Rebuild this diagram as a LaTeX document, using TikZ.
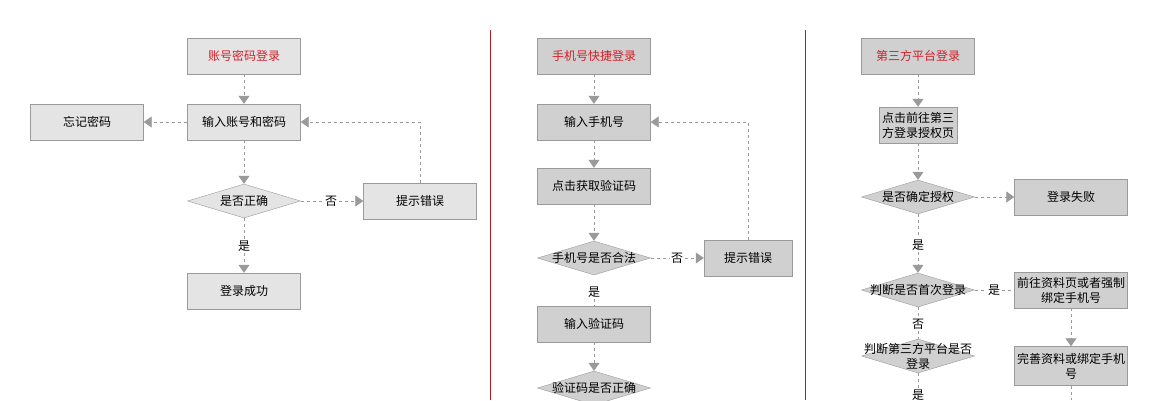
\documentclass[tikz,border=0pt]{standalone}
\usepackage{fontspec}
\newfontfamily\cjk{Noto Sans CJK SC}
\usetikzlibrary{arrows.meta,shapes.geometric}
\definecolor{boxgray}{HTML}{E4E4E4}
\definecolor{darkbox}{HTML}{D0D0D0}
\definecolor{linegray}{HTML}{9A9A9A}
\definecolor{titlered}{HTML}{D0202A}
\tikzset{
  box/.style={draw=linegray,fill=boxgray,minimum width=113pt,minimum height=36pt,font=\cjk\fontsize{12}{15}\selectfont,align=center,inner sep=2pt},
  dbox/.style={box,fill=darkbox},
  cond/.style={draw=linegray,fill=darkbox,diamond,minimum width=113pt,minimum height=34pt,inner sep=0pt,
    label={[font=\cjk\fontsize{12}{15}\selectfont,align=center]center:#1}},
  lab/.style={font=\cjk\fontsize{12}{14}\selectfont,fill=white,inner sep=2pt},
  flow/.style={draw=linegray,dashed,thick,-{Triangle[width=11pt,length=8pt,fill=linegray]}},
  link/.style={draw=linegray,dashed,thick}
}
\begin{document}
\begin{tikzpicture}[x=1pt,y=-1pt]
\useasboundingbox (0,0) rectangle (1163,400);
\draw[titlered!85!black] (490,30) -- (490,400) (805,30) -- (805,400);
% column one
\node[box,text=titlered] (A0) at (244,56) {账号密码登录};
\node[box] (A1) at (244,122) {输入账号和密码};
\node[box] (A2) at (87,122) {忘记密码};
\node[cond=是否正确,fill=boxgray] (A3) at (244,201) {};
\node[box] (A4) at (420,201) {提示错误};
\node[lab] (A5) at (244,246) {是};
\node[box] (A6) at (244,291) {登录成功};
\node[lab] (A7) at (331,201) {否};
\draw[flow] (A0) -- (A1);
\draw[flow] (A1) -- (A2);
\draw[flow] (A1) -- (A3);
\draw[link] (A3) -- (A7);
\draw[flow] (A7) -- (A4);
\draw[link] (A3) -- (A5);
\draw[flow] (A5) -- (A6);
\draw[flow] (A4.north) |- (A1.east);
% column two
\node[dbox,text=titlered] (B0) at (594,56) {手机号快捷登录};
\node[dbox] (B1) at (594,122) {输入手机号};
\node[dbox] (B2) at (594,186) {点击获取验证码};
\node[cond=手机号是否合法] (B3) at (594,258) {};
\node[lab] (B4) at (677,258) {否};
\node[dbox,minimum width=88pt] (B5) at (748,258) {提示错误};
\node[lab] (B6) at (594,292) {是};
\node[dbox] (B7) at (594,324) {输入验证码};
\node[cond=验证码是否正确] (B8) at (594,388) {};
\draw[flow] (B0) -- (B1);
\draw[flow] (B1) -- (B2);
\draw[flow] (B2) -- (B3);
\draw[link] (B3) -- (B4);
\draw[flow] (B4) -- (B5);
\draw[flow] (B5.north) |- (B1.east);
\draw[link] (B6) -- (B7);
\draw[flow] (B7) -- (B8);
% column three
\node[dbox,text=titlered] (C0) at (918,56) {第三方平台登录};
\node[dbox,minimum width=78pt,text width=74pt] (C1) at (918,125) {点击前往第三\\方登录授权页};
\node[cond=是否确定授权] (C2) at (918,197) {};
\node[dbox] (C3) at (1071,197) {登录失败};
\node[lab] (C4) at (918,245) {是};
\node[cond=判断是否首次登录] (C5) at (918,290) {};
\node[lab] (C6) at (994,290) {是};
\node[dbox,text width=109pt] (C7) at (1071,290) {前往资料页或者强制\\绑定手机号};
\node[lab] (C8) at (918,324) {否};
\node[cond={判断第三方平台是否\\登录}] (C9) at (918,356) {};
\node[dbox,text width=109pt,minimum height=39pt] (C10) at (1071,366) {完善资料或绑定手机\\号};
\node[lab] (C11) at (918,395) {是};
\coordinate (C12) at (1071,400);
\draw[flow] (C0) -- (C1);
\draw[flow] (C1) -- (C2);
\draw[flow] (C2) -- (C3);
\draw[link] (C2) -- (C4);
\draw[flow] (C4) -- (C5);
\draw[link] (C5) -- (C6);
\draw[link] (C6) -- (C7);
\draw[link] (C5) -- (C8);
\draw[link] (C8) -- (C9);
\draw[link] (C9) -- (C11);
\draw[flow] (C7) -- (C10);
\draw[link] (C10) -- (C12);
\end{tikzpicture}
\end{document}
